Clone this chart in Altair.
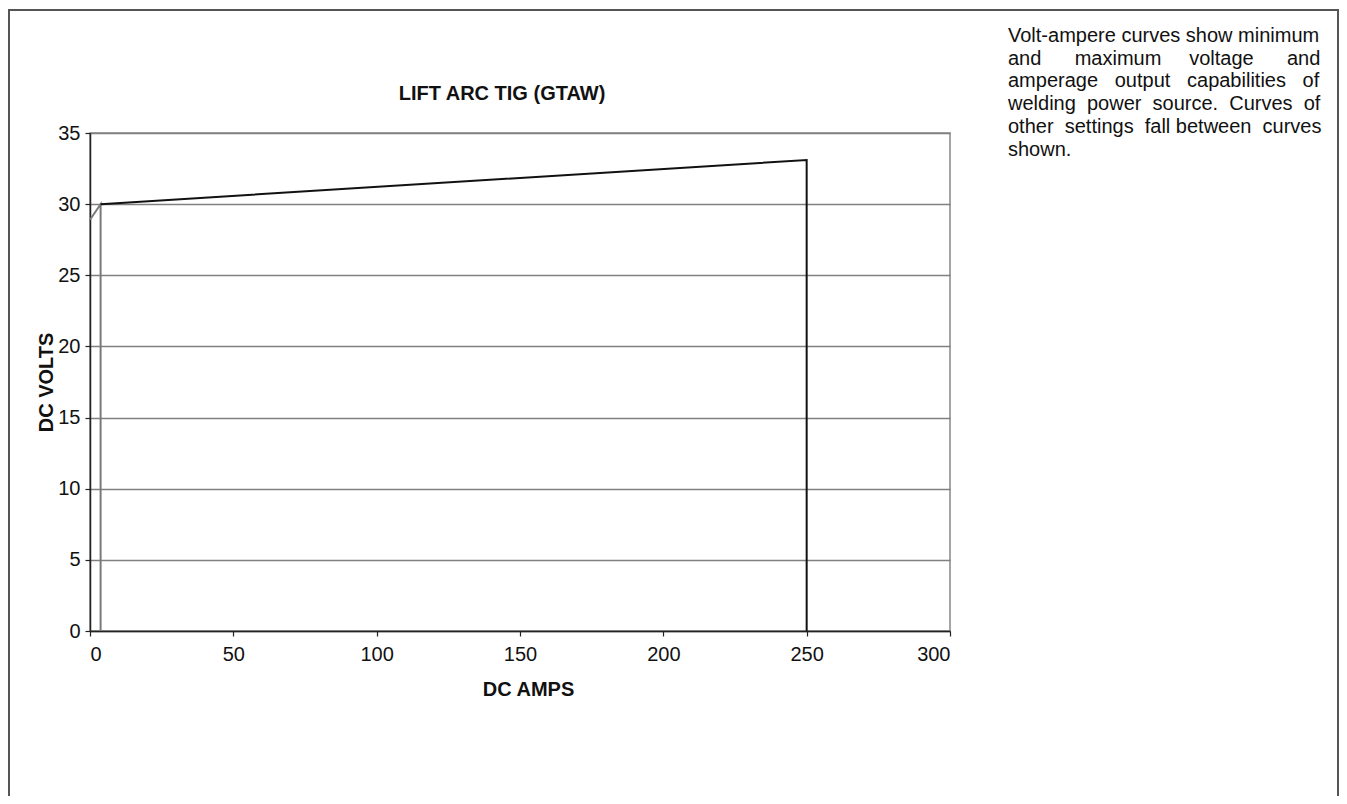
import altair as alt
import pandas as pd

# Data
min_amps = [0, 3.7, 3.7]
min_volts = [28.9, 30.0, 0]
max_amps = [3.7, 250, 250]
max_volts = [30.0, 33.1, 0]

NB = "\u00a0"
# Note text; the gaps are widened with no-break spaces to imitate the justified block
note_words = [
    ["Volt-ampere curves", "show", "minimum"],
    ["and", "maximum", "voltage", "and"],
    ["amperage", "output", "capabilities", "of"],
    ["welding", "power", "source.", "Curves", "of"],
    ["other", "settings", "fall", "between", "curves"],
    ["shown."],
]
note_gaps = [
    [1, 1],
    [6, 5, 6],
    [3, 3, 3],
    [2, 2, 2, 2],
    [2, 2, 1, 2],
    [],
]


def join_line(words, gaps):
    out = words[0]
    for w, g in zip(words[1:], gaps):
        out += NB * g + w
    return out


note_lines = [join_line(w, g) for w, g in zip(note_words, note_gaps)]

FONT = "Liberation Sans"

df = pd.DataFrame({
    "amps": min_amps + max_amps,
    "volts": min_volts + max_volts,
    "curve": ["min"] * len(min_amps) + ["max"] * len(max_amps),
    "order": list(range(len(min_amps))) + list(range(len(max_amps))),
})

x_enc = alt.X("amps:Q", scale=alt.Scale(domain=[0, 300], nice=False),
              axis=alt.Axis(values=[0, 50, 100, 150, 200, 250, 300], grid=False,
                            title="DC AMPS", titleX=438, titleY=64,
                            titleBaseline="alphabetic", titleAlign="center"))
y_enc = alt.Y("volts:Q", scale=alt.Scale(domain=[0, 35], nice=False),
              axis=alt.Axis(values=[0, 5, 10, 15, 20, 25, 30, 35], grid=True,
                            title="DC VOLTS", titleX=-38, titleY=249, titleAngle=270,
                            titleBaseline="alphabetic", titleAlign="center"))

lines = alt.Chart(df).mark_line(strokeWidth=2, clip=False).encode(
    x=x_enc, y=y_enc, detail="curve:N", order="order:Q",
    color=alt.Color("curve:N", scale=alt.Scale(domain=["min", "max"], range=["#7a7a7a", "#111111"]),
                    legend=None),
)

frame = alt.Chart(pd.DataFrame({"a": [0]})).mark_rect(
    fill=None, stroke="#555555", strokeWidth=2, clip=False
).encode(x=alt.value(-81), x2=alt.value(1248), y=alt.value(-123), y2=alt.value(700))

title = alt.Chart(pd.DataFrame({"t": ["LIFT ARC TIG (GTAW)"]})).mark_text(
    font=FONT, fontSize=20, fontWeight="bold", color="#111111", align="center",
    baseline="alphabetic"
).encode(text="t:N", x=alt.value(412), y=alt.value(-33))

note = alt.Chart(pd.DataFrame({"t": ["\n".join(note_lines)]})).mark_text(
    font=FONT, fontSize=20, color="#111111", align="left", baseline="alphabetic",
    lineBreak="\n", lineHeight=22.7
).encode(text="t:N", x=alt.value(918), y=alt.value(-91))

chart = alt.layer(frame, lines, title, note).properties(
    width=860, height=498,
    autosize=alt.AutoSizeParams(type="none"),
    padding={"left": 82, "top": 125, "right": 389, "bottom": 165},
).configure_view(
    stroke="#888888", strokeWidth=1.5
).configure_axis(
    labelFont=FONT, labelFontSize=20, labelColor="#111111",
    titleFont=FONT, titleFontSize=20, titleFontWeight="bold", titleColor="#111111",
    domainColor="#222222", domainWidth=1.5, tickColor="#222222", tickSize=5,
    tickWidth=1.2, gridColor="#808080", gridWidth=1.5, labelPadding=5,
).configure_axisX(labelPadding=8)

chart.save("out.html", embed_options={"renderer": "svg", "actions": False})
